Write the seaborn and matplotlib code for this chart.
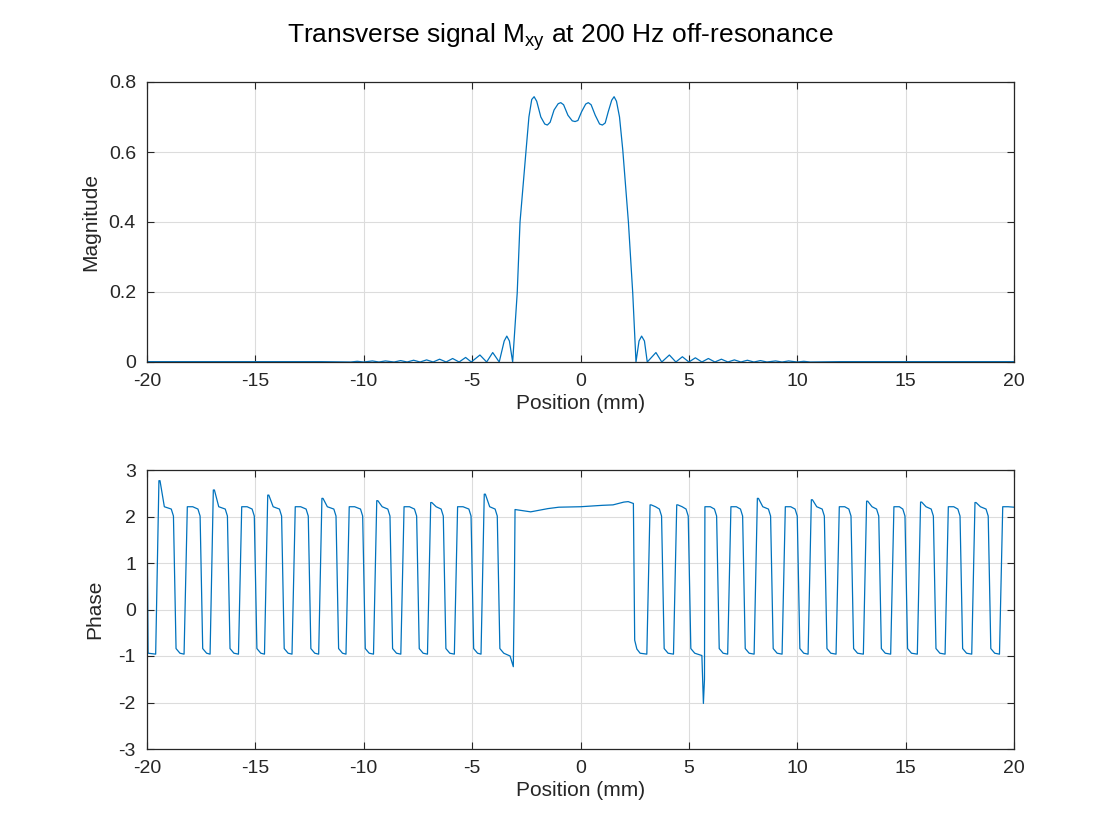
import matplotlib
matplotlib.use("Agg")
import matplotlib.pyplot as plt
import seaborn as sns
import numpy as np
import pandas as pd

# ---- magnitude |Mxy| ----
mag_x = [-20, -12, -10.6, -10.3, -10.0, -9.6, -9.3, -9.0, -8.6, -8.3, -8.0, -7.7, -7.4, -7.1, -6.8,
         -6.5, -6.2, -5.9, -5.6, -5.3, -5.04, -4.64, -4.33, -4.05, -3.75, -3.52, -3.4, -3.28, -3.13,
         -2.92, -2.79, -2.51, -2.38, -2.25, -2.14, -2.02, -1.83, -1.65, -1.53, -1.40, -1.22, -1.03,
         -0.91, -0.78, -0.58, -0.38, -0.25, -0.12, 0.05, 0.24, 0.36, 0.49, 0.68, 0.88, 1.01, 1.14,
         1.28, 1.44, 1.55, 1.66, 1.80, 1.95, 2.21, 2.41, 2.56, 2.70, 2.82, 2.95, 3.08, 3.48, 3.75,
         4.10, 4.4, 4.7, 5.0, 5.3, 5.6, 5.9, 6.2, 6.5, 6.8, 7.1, 7.4, 7.7, 8.0, 8.3, 8.6, 9.0, 9.3,
         9.6, 10.0, 10.3, 10.6, 12, 20]
mag_y = [0.001, 0.001, 0.0, 0.002, 0.0, 0.003, 0.0, 0.003, 0.0, 0.004, 0.0, 0.005, 0.0, 0.006, 0.0,
         0.008, 0.0, 0.010, 0.0, 0.013, 0.0, 0.020, 0.0, 0.027, 0.0, 0.060, 0.074, 0.060, 0.0,
         0.197, 0.40, 0.606, 0.70, 0.750, 0.758, 0.745, 0.700, 0.680, 0.677, 0.685, 0.720, 0.738,
         0.741, 0.735, 0.705, 0.689, 0.687, 0.690, 0.715, 0.737, 0.741, 0.735, 0.705, 0.680, 0.677,
         0.683, 0.715, 0.748, 0.758, 0.745, 0.700, 0.606, 0.40, 0.197, 0.0, 0.060, 0.074, 0.060, 0.0,
         0.027, 0.0, 0.020, 0.0, 0.015, 0.0, 0.012, 0.0, 0.010, 0.0, 0.008, 0.0, 0.006, 0.0, 0.005, 0.0,
         0.004, 0.0, 0.003, 0.0, 0.003, 0.0, 0.002, 0.0, 0.001, 0.001]

# ---- phase: square-wave edges (mm) ----
hi_level = 2.21
lo_level = -0.94
left_rises = [-19.45, -18.14, -16.94, -15.63, -14.43, -13.16, -11.93, -10.67, -9.40, -8.14, -6.91, -5.67, -4.44]
left_falls = [-18.78, -17.55, -16.29, -15.05, -13.79, -12.56, -11.28, -10.05, -8.79, -7.56, -6.33, -5.05, -3.84]
left_spikes = [2.77, 2.21, 2.57, 2.21, 2.46, 2.21, 2.39, 2.21, 2.34, 2.21, 2.30, 2.21, 2.48]
right_rises = [3.21, 4.44, 5.74, 6.94, 8.16, 9.45, 10.65, 11.94, 13.20, 14.46, 15.69, 16.97, 18.20, 19.48]
right_falls = [3.74, 4.97, 6.28, 7.48, 8.77, 10.00, 11.25, 12.48, 13.76, 14.97, 16.28, 17.51, 18.81, 20.0]
right_spikes = [2.25, 2.25, 2.21, 2.21, 2.39, 2.21, 2.36, 2.21, 2.33, 2.21, 2.31, 2.21, 2.30, 2.21]
center_x = [-3.02, -2.6, -2.3, -1.5, -1.0, 0.0, 1.0, 1.5, 2.0, 2.2, 2.44]
center_y = [2.15, 2.12, 2.10, 2.17, 2.20, 2.21, 2.24, 2.25, 2.31, 2.32, 2.28]

# build phase polyline from the edge lists
px, py = [-20.0, -19.95], [2.2, lo_level]
for r, f, s in zip(left_rises, left_falls, left_spikes):
    px += [r - 0.15, r, r + 0.05, r + 0.25, f - 0.1, f, f + 0.12, f + 0.3]
    py += [lo_level - 0.02, s, s, hi_level, hi_level - 0.05, hi_level - 0.2, lo_level + 0.1, lo_level]
px += [-3.25, -3.1, -3.05]
py += [-1.0, -1.23, 0.5]
px += center_x
py += center_y
px += [2.5, 2.6, 2.75]
py += [-0.66, -0.85, lo_level]
for i, (r, f, s) in enumerate(zip(right_rises, right_falls, right_spikes)):
    if i == 2:
        px += [5.6, 5.67, 5.72]
        py += [lo_level - 0.05, -2.02, -1.5]
    else:
        px += [r - 0.15]
        py += [lo_level - 0.02]
    px += [r, r + 0.05, r + 0.25]
    py += [s, s, hi_level]
    if f < 20:
        px += [f - 0.1, f, f + 0.12, f + 0.3]
        py += [hi_level - 0.05, hi_level - 0.2, lo_level + 0.1, lo_level]
    else:
        px += [f]
        py += [2.2]

mag_df = pd.DataFrame({"pos": mag_x, "val": mag_y})
ph_df = pd.DataFrame({"pos": px, "val": py})

sns.set_style("whitegrid")
plt.rcParams['font.family'] = ['Liberation Sans', 'DejaVu Sans']
plt.rcParams['axes.unicode_minus'] = False
plt.rcParams['mathtext.fontset'] = 'custom'
plt.rcParams['mathtext.rm'] = 'Liberation Sans'
line_color = "#0072BD"

fig = plt.figure(figsize=(11.2, 8.4), dpi=100)
ax1 = fig.add_axes([147 / 1120, 1 - 362 / 840, 867 / 1120, 280 / 840])
ax2 = fig.add_axes([147 / 1120, 1 - 749 / 840, 867 / 1120, 279 / 840])

sns.lineplot(data=mag_df, x="pos", y="val", ax=ax1, color=line_color, linewidth=0.9, sort=False)
sns.lineplot(data=ph_df, x="pos", y="val", ax=ax2, color=line_color, linewidth=0.9, sort=False)

ax1.set_ylim(0, 0.8)
ax1.set_yticks([0, 0.2, 0.4, 0.6, 0.8])
ax1.set_yticklabels(["0", "0.2", "0.4", "0.6", "0.8"])
ax1.set_ylabel("Magnitude", fontsize=15, labelpad=6)
ax2.set_ylim(-3, 3)
ax2.set_yticks(range(-3, 4))
ax2.set_ylabel("Phase", fontsize=15, labelpad=10)

for ax in (ax1, ax2):
    ax.set_xlim(-20, 20)
    ax.set_xticks(range(-20, 21, 5))
    ax.set_xlabel("Position (mm)", fontsize=15, labelpad=3)
    ax.grid(True, color="#dcdcdc", linewidth=0.8)
    ax.tick_params(direction="in", length=5, labelsize=14, colors="#262626", pad=8,
                   top=True, right=True, bottom=True, left=True)
    for sp in ax.spines.values():
        sp.set_color("#262626")
        sp.set_linewidth(0.9)

fig.suptitle("Transverse signal M$_{\\mathrm{xy}}$ at 200 Hz off-resonance", fontsize=19, y=0.975, color="black")
fig.savefig("out.png", dpi=100)
